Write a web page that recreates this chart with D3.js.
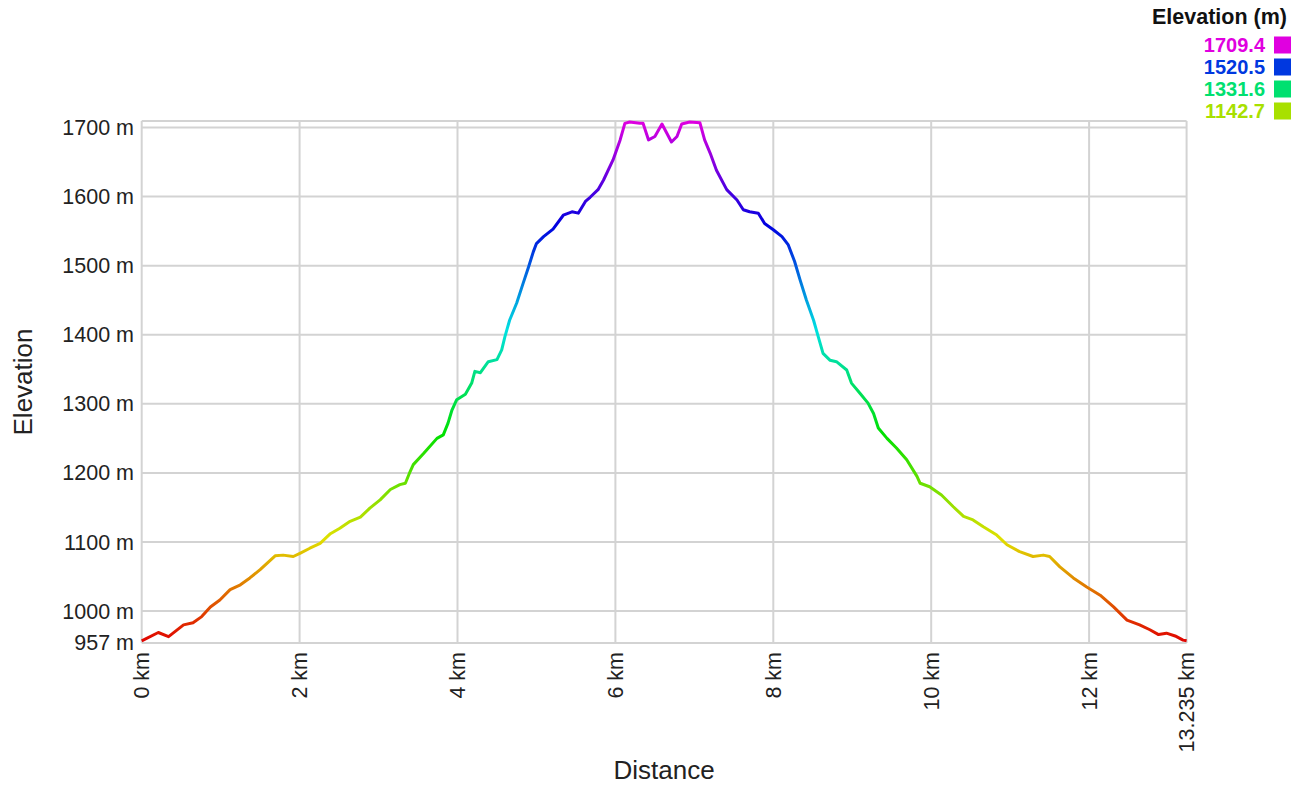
<!DOCTYPE html>
<html>
<head>
<meta charset="utf-8">
<script src="https://cdn.jsdelivr.net/npm/d3@7"></script>
<style>
  body { margin: 0; background: #fff; }
  svg text { font-family: "Liberation Sans", Arial, sans-serif; }
</style>
</head>
<body>
<svg id="chart" width="1301" height="789"></svg>
<script>
// distance along the track (km) and elevation (m)
const distKm = [
  0, 0.21, 0.34, 0.53, 0.65, 0.76, 0.87, 0.99, 1.12, 1.25,
  1.37, 1.50, 1.69, 1.79, 1.92, 2.01, 2.13, 2.26, 2.39, 2.51,
  2.64, 2.77, 2.89, 3.02, 3.15, 3.27, 3.34, 3.40, 3.44, 3.57,
  3.74, 3.82, 3.88, 3.93, 3.99, 4.10, 4.18, 4.22, 4.29, 4.39,
  4.50, 4.56, 4.60, 4.66, 4.75, 4.83, 4.90, 4.96, 5.00, 5.09,
  5.21, 5.34, 5.45, 5.53, 5.62, 5.68, 5.78, 5.85, 5.97, 6.06,
  6.12, 6.18, 6.31, 6.35, 6.42, 6.50, 6.59, 6.65, 6.71, 6.78,
  6.84, 6.94, 7.07, 7.13, 7.20, 7.28, 7.41, 7.54, 7.62, 7.70,
  7.81, 7.89, 8.00, 8.11, 8.19, 8.27, 8.34, 8.42, 8.51, 8.57,
  8.63, 8.72, 8.80, 8.93, 8.99, 9.10, 9.20, 9.27, 9.33, 9.44,
  9.56, 9.69, 9.82, 9.86, 9.98, 10.13, 10.28, 10.41, 10.53, 10.66,
  10.83, 10.96, 11.12, 11.29, 11.42, 11.50, 11.63, 11.80, 11.97, 12.14,
  12.31, 12.48, 12.64, 12.77, 12.88, 12.98, 13.09, 13.19, 13.235
];
const elevM = [
  957, 969, 963, 980, 983, 992, 1006, 1016, 1031, 1038,
  1048, 1060, 1080, 1081, 1079, 1084, 1091, 1098, 1112, 1120,
  1130, 1136, 1149, 1161, 1176, 1183, 1185, 1202, 1212, 1228,
  1250, 1255, 1272, 1291, 1306, 1314, 1330, 1347, 1345, 1361,
  1364, 1378, 1397, 1421, 1446, 1474, 1498, 1520, 1532, 1542,
  1553, 1573, 1578, 1576, 1593, 1599, 1610, 1624, 1653, 1682,
  1706, 1708, 1706, 1706, 1682, 1687, 1705, 1692, 1679, 1687,
  1705, 1708, 1707, 1682, 1663, 1638, 1610, 1595, 1581, 1578,
  1576, 1561, 1552, 1542, 1530, 1506, 1479, 1450, 1421, 1397,
  1373, 1363, 1361, 1349, 1330, 1315, 1301, 1286, 1265, 1250,
  1236, 1219, 1195, 1185, 1180, 1168, 1151, 1137, 1132, 1122,
  1110, 1096, 1086, 1079, 1081, 1079, 1064, 1048, 1035, 1023,
  1006, 987, 980, 973, 966, 968, 964, 958, 957
];

const yTicks = [957, 1000, 1100, 1200, 1300, 1400, 1500, 1600, 1700];
const xTicks = [0, 2, 4, 6, 8, 10, 12, 13.235];
const legendValues = [1709.4, 1520.5, 1331.6, 1142.7];

const elevMin = 953.8, elevMax = 1709.4, distMax = 13.235;

const svg = d3.select('#chart');
const pLeft = 141.7, pRight = 1186.6, pTop = 121, pBottom = 643;

const x = d3.scaleLinear().domain([0, distMax]).range([pLeft, pRight]);
const y = d3.scaleLinear().domain([elevMin, elevMax]).range([pBottom, pTop]);

// hue runs from red (low) to magenta (high)
function elevColor(e) {
  let t = (e - elevMin) / (elevMax - elevMin);
  return d3.hsl(300 * t, 1, 0.44).formatHex();
}

// grid (957 sits on the bottom border, so no separate line for it)
const grid = svg.append('g').attr('stroke', '#d3d3d3').attr('stroke-width', 2);
yTicks.slice(1).concat([elevMax, elevMin]).forEach(v => {
  grid.append('line')
    .attr('x1', pLeft).attr('x2', pRight)
    .attr('y1', y(v)).attr('y2', y(v));
});
xTicks.forEach(v => {
  grid.append('line')
    .attr('x1', x(v)).attr('x2', x(v))
    .attr('y1', pTop).attr('y2', pBottom);
});

// y tick labels
svg.append('g').selectAll('text').data(yTicks).join('text')
  .attr('x', 134)
  .attr('y', d => d == 957 ? pBottom - 1 : y(d))
  .attr('dy', '0.35em')
  .attr('text-anchor', 'end')
  .attr('font-size', 21.5)
  .attr('fill', '#222')
  .text(d => d + ' m');

// x tick labels, rotated
svg.append('g').selectAll('text').data(xTicks).join('text')
  .attr('transform', d => 'translate(' + x(d) + ',652) rotate(-90)')
  .attr('dy', '0.35em')
  .attr('text-anchor', 'end')
  .attr('font-size', 21.5)
  .attr('fill', '#222')
  .text(d => d + ' km');

// axis titles
svg.append('text')
  .attr('x', (pLeft + pRight) / 2).attr('y', 779)
  .attr('text-anchor', 'middle')
  .attr('font-size', 26).attr('fill', '#222')
  .text('Distance');

svg.append('text')
  .attr('transform', 'translate(32,' + ((pTop + pBottom) / 2) + ') rotate(-90)')
  .attr('text-anchor', 'middle')
  .attr('font-size', 26).attr('fill', '#222')
  .text('Elevation');

// colour gradient following elevation
const grad = svg.append('defs').append('linearGradient')
  .attr('id', 'elevGrad')
  .attr('gradientUnits', 'userSpaceOnUse')
  .attr('x1', 0).attr('x2', 0)
  .attr('y1', y(elevMin)).attr('y2', y(elevMax));
d3.range(0, 31).forEach(i => {
  let t = i / 30;
  grad.append('stop')
    .attr('offset', t)
    .attr('stop-color', elevColor(elevMin + t * (elevMax - elevMin)));
});

const pts = distKm.map((d, i) => [d, elevM[i]]);
svg.append('path')
  .datum(pts)
  .attr('fill', 'none')
  .attr('stroke', 'url(#elevGrad)')
  .attr('stroke-width', 3)
  .attr('stroke-linejoin', 'round')
  .attr('d', d3.line().x(d => x(d[0])).y(d => y(d[1])));

// legend
svg.append('text')
  .attr('x', 1287).attr('y', 24)
  .attr('text-anchor', 'end')
  .attr('font-size', 21.5).attr('font-weight', 'bold').attr('fill', '#111')
  .text('Elevation (m)');

const leg = svg.append('g');
legendValues.forEach((v, i) => {
  let cy = 45 + i * 22;
  leg.append('text')
    .attr('x', 1265).attr('y', cy)
    .attr('dy', '0.35em')
    .attr('text-anchor', 'end')
    .attr('font-size', 20).attr('font-weight', 'bold')
    .attr('fill', elevColor(v))
    .text(v.toFixed(1));
  leg.append('rect')
    .attr('x', 1274).attr('y', cy - 8.5)
    .attr('width', 17).attr('height', 17)
    .attr('fill', elevColor(v));
});
</script>
</body>
</html>
